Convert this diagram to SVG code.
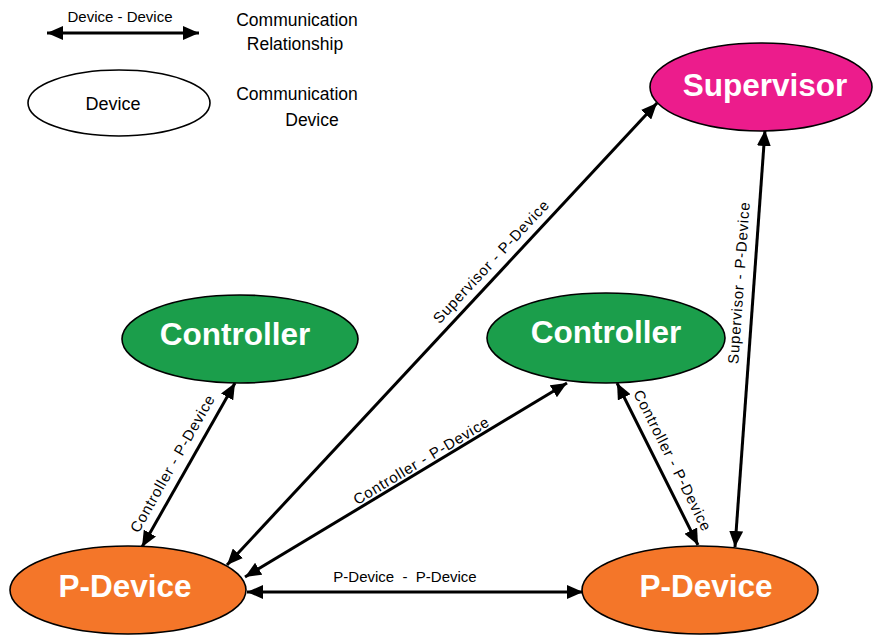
<svg xmlns="http://www.w3.org/2000/svg" width="875" height="635" viewBox="0 0 875 635">
<style>
.node{stroke:#000;stroke-width:1.6}
.sup{fill:#ec1c8c}
.ctl{fill:#1b9e4b}
.pd{fill:#f47629}
.dev{fill:#fff}
.nl{font-family:"Liberation Sans",Arial,sans-serif;font-weight:bold;font-size:31.5px;fill:#fff;text-anchor:middle}
.lg{font-family:"Liberation Sans",Arial,sans-serif;font-size:17.5px;fill:#000;text-anchor:middle}
.el{font-family:"Liberation Sans",Arial,sans-serif;font-size:15px;fill:#000;text-anchor:middle;letter-spacing:0.8px}
.hl{font-family:"Liberation Sans",Arial,sans-serif;font-size:15px;fill:#000;text-anchor:middle}
.conn line{stroke:#000;stroke-width:3;marker-start:url(#ah);marker-end:url(#ah)}
</style>
<defs>
<marker id="ah" viewBox="0 0 16 14" refX="16" refY="7" markerWidth="16" markerHeight="14" markerUnits="userSpaceOnUse" orient="auto-start-reverse">
<path d="M0,0 L16,7 L0,14 Z" fill="#000"/>
</marker>
</defs>
<rect width="875" height="635" fill="#fff"/>

<g id="legend">
<text class="hl" x="120" y="22">Device - Device</text>
<g class="conn"><line x1="47" y1="33" x2="199" y2="33"/></g>
<text class="lg" x="297" y="26">Communication</text>
<text class="lg" x="295" y="50">Relationship</text>
<ellipse class="node dev" cx="119" cy="103" rx="91" ry="33"/>
<text class="lg" x="113" y="110" style="font-size:18px">Device</text>
<text class="lg" x="297" y="100">Communication</text>
<text class="lg" x="312" y="126">Device</text>
</g>

<g id="connectors" class="conn">
<line x1="235" y1="383" x2="142" y2="547"/>
<line x1="657" y1="103" x2="227" y2="565"/>
<line x1="567" y1="383" x2="245" y2="577"/>
<line x1="247" y1="592" x2="583" y2="592"/>
<line x1="617" y1="383" x2="698" y2="545"/>
<line x1="765" y1="130" x2="735" y2="547"/>
</g>

<g id="connector-labels">
<text class="el" transform="translate(177,466) rotate(-60.4)">Controller - P-Device</text>
<text class="el" transform="translate(495,265) rotate(-47)">Supervisor - P-Device</text>
<text class="el" transform="translate(424,465) rotate(-31)">Controller - P-Device</text>
<text class="hl" x="405" y="582" xml:space="preserve">P-Device  -  P-Device</text>
<text class="el" transform="translate(668,463) rotate(63.4)">Controller - P-Device</text>
<text class="el" transform="translate(744,283) rotate(-85.9)">Supervisor - P-Device</text>
</g>

<g id="supervisor">
<ellipse class="node sup" cx="761" cy="87" rx="111" ry="44"/>
<text class="nl" x="765" y="96">Supervisor</text>
</g>
<g id="controller-left">
<ellipse class="node ctl" cx="240" cy="339" rx="118" ry="44"/>
<text class="nl" x="235" y="345">Controller</text>
</g>
<g id="controller-right">
<ellipse class="node ctl" cx="606" cy="338" rx="119" ry="45"/>
<text class="nl" x="606" y="343">Controller</text>
</g>
<g id="pdevice-left">
<ellipse class="node pd" cx="128" cy="590" rx="118" ry="44"/>
<text class="nl" x="125" y="597">P-Device</text>
</g>
<g id="pdevice-right">
<ellipse class="node pd" cx="700" cy="590" rx="118" ry="44"/>
<text class="nl" x="706" y="597">P-Device</text>
</g>
</svg>
